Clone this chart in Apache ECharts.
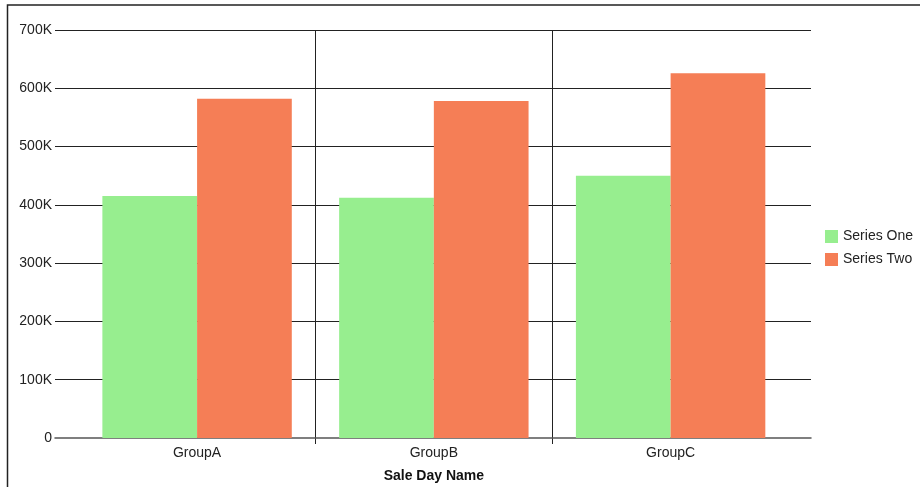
<!DOCTYPE html>
<html>
<head>
<meta charset="utf-8">
<script src="https://cdn.jsdelivr.net/npm/echarts@6/dist/echarts.min.js"></script>
<style>html,body{margin:0;padding:0;background:#fff}#c{width:920px;height:487px}</style>
</head>
<body>
<div id="c"></div>
<script>
const categories = ['GroupA', 'GroupB', 'GroupC'];
const seriesOne = [415000, 412000, 450000];
const seriesTwo = [582000, 578000, 626000];
const seriesNames = ['Series One', 'Series Two'];
const yTicks = [0, 100000, 200000, 300000, 400000, 500000, 600000, 700000];
const axisTitle = 'Sale Day Name';

const chart = echarts.init(document.getElementById('c'));
const font = 'Liberation Sans, Arial, sans-serif';
const fs = 14;
chart.setOption({
  animation: false,
  graphic: [{
    type: 'rect', silent: true,
    shape: { x: 7.5, y: 5, width: 2000, height: 2000 },
    style: { fill: 'none', stroke: '#222', lineWidth: 1.5 }
  }],
  legend: {
    orient: 'vertical', left: 825, top: 228.5, padding: 0, itemWidth: 13, itemHeight: 13, itemGap: 7,
    icon: 'rect',
    textStyle: { fontFamily: font, fontSize: fs, color: '#222', lineHeight: 16 },
    data: seriesNames
  },
  grid: [
    { left: 55, right: 109, top: 30, bottom: 49, outerBoundsMode: 'none', containLabel: false },
    { left: 78.7, right: 131, top: 30, bottom: 49, outerBoundsMode: 'none', containLabel: false },
    { left: 78.7, right: 131, top: 30, bottom: 43, outerBoundsMode: 'none', containLabel: false }
  ],
  xAxis: [
    { gridIndex: 0, type: 'value', min: 0, max: 1, axisLabel: { show: false }, axisTick: { show: false }, splitLine: { show: false },
      axisLine: { show: true, lineStyle: { color: '#555', width: 1.5 } } },
    { gridIndex: 1, type: 'category', data: categories, axisLine: { show: false }, axisTick: { show: false },
      axisLabel: { fontFamily: font, fontSize: fs, color: '#222', margin: 8 },
      name: axisTitle, nameLocation: 'middle', nameGap: 31,
      nameTextStyle: { fontFamily: font, fontSize: fs, fontWeight: 'bold', color: '#111' } },
    { gridIndex: 2, type: 'value', min: 0, max: 3, interval: 1, axisLabel: { show: false }, axisTick: { show: false }, axisLine: { show: false },
      splitLine: { show: true, showMinLine: false, showMaxLine: false, lineStyle: { color: '#222', width: 1 } } }
  ],
  yAxis: [
    { gridIndex: 0, type: 'value', min: yTicks[0], max: yTicks[yTicks.length - 1], interval: 100000,
      axisLine: { show: false }, axisTick: { show: false },
      axisLabel: { fontFamily: font, fontSize: fs, color: '#222', margin: 3,
        formatter: v => v === 0 ? '0' : (v / 1000) + 'K' },
      splitLine: { show: true, showMinLine: false, lineStyle: { color: '#222', width: 1 } } },
    { gridIndex: 1, type: 'value', min: yTicks[0], max: yTicks[yTicks.length - 1], show: false },
    { gridIndex: 2, type: 'value', min: 0, max: 1, show: false }
  ],
  series: [
    { name: seriesNames[0], type: 'bar', xAxisIndex: 1, yAxisIndex: 1, data: seriesOne,
      barGap: 0, barCategoryGap: '20%', itemStyle: { color: '#97EE8F' } },
    { name: seriesNames[1], type: 'bar', xAxisIndex: 1, yAxisIndex: 1, data: seriesTwo,
      barGap: 0, barCategoryGap: '20%', itemStyle: { color: '#F57E56' } }
  ]
});
</script>
</body>
</html>
